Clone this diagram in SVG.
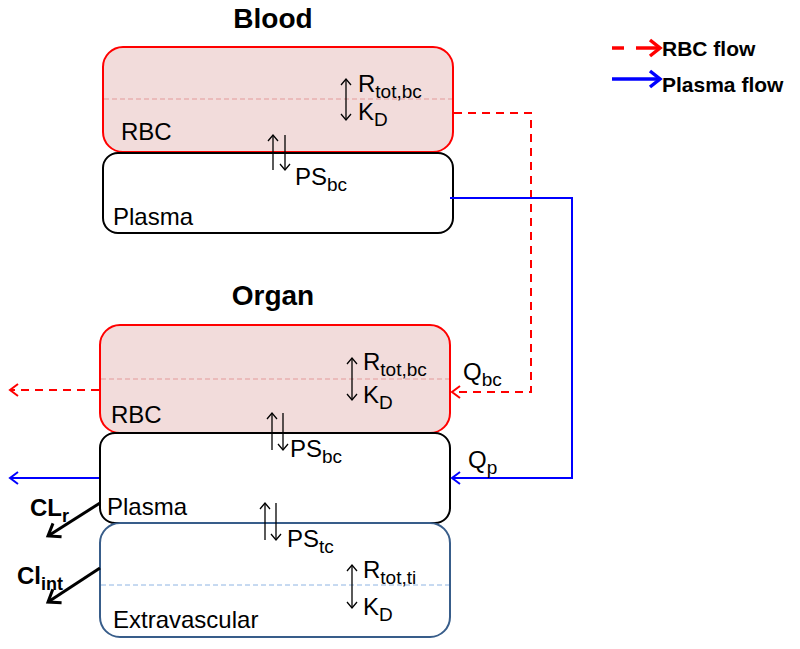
<svg xmlns="http://www.w3.org/2000/svg" width="800" height="649" viewBox="0 0 800 649">
<style>
text{font-family:"Liberation Sans",Arial,sans-serif;fill:#000}
.t{font-size:24px}
.s{font-size:19px}
.h{font-size:28px;font-weight:bold}
.lg{font-size:21px;font-weight:bold}
.rbc{fill:#f2dcdb;stroke:#ff0000;stroke-width:2}
.pl{fill:#fff;stroke:#000;stroke-width:2}
.ev{fill:#fff;stroke:#385d8a;stroke-width:2}
.thin{stroke:#000;stroke-width:1.3;fill:none}
.red{stroke:#ff0000;stroke-width:2;fill:none;stroke-dasharray:8,6}
.blue{stroke:#0000ff;stroke-width:2;fill:none}
</style>
<defs>
<marker id="ah" markerUnits="userSpaceOnUse" markerWidth="12" markerHeight="12" refX="9" refY="6" orient="auto-start-reverse" viewBox="0 0 12 12">
<path d="M3,1 L9,6 L3,11" fill="none" stroke="#000" stroke-width="1.3"/>
</marker>
<marker id="ar" markerUnits="userSpaceOnUse" markerWidth="16" markerHeight="16" refX="13" refY="8" orient="auto" viewBox="0 0 16 16">
<path d="M5,2 L13,8 L5,14" fill="none" stroke="#ff0000" stroke-width="2"/>
</marker>
<marker id="ab" markerUnits="userSpaceOnUse" markerWidth="16" markerHeight="16" refX="13" refY="8" orient="auto" viewBox="0 0 16 16">
<path d="M5,2 L13,8 L5,14" fill="none" stroke="#0000ff" stroke-width="2"/>
</marker>
<marker id="ak" markerUnits="userSpaceOnUse" markerWidth="20" markerHeight="20" refX="16" refY="10" orient="auto" viewBox="0 0 20 20">
<path d="M5,2 L16,10 L5,18" fill="none" stroke="#000" stroke-width="3"/>
</marker>
<marker id="lr" markerUnits="userSpaceOnUse" markerWidth="20" markerHeight="20" refX="16" refY="10" orient="auto" viewBox="0 0 20 20">
<path d="M6,2 L16,10 L6,18" fill="none" stroke="#ff0000" stroke-width="3.5"/>
</marker>
<marker id="lb" markerUnits="userSpaceOnUse" markerWidth="20" markerHeight="20" refX="16" refY="10" orient="auto" viewBox="0 0 20 20">
<path d="M6,2 L16,10 L6,18" fill="none" stroke="#0000ff" stroke-width="3.5"/>
</marker>
</defs>

<g id="titles">
<text class="h" x="273" y="28" text-anchor="middle">Blood</text>
<text class="h" x="273" y="305" text-anchor="middle">Organ</text>
</g>

<g id="legend">
<line x1="612" y1="48" x2="624" y2="48" stroke="#ff0000" stroke-width="3.5"/>
<line x1="636" y1="48" x2="660" y2="48" stroke="#ff0000" stroke-width="3.5" marker-end="url(#lr)"/>
<text class="lg" x="662" y="56">RBC flow</text>
<line x1="612" y1="79" x2="660" y2="79" stroke="#0000ff" stroke-width="3.5" marker-end="url(#lb)"/>
<text class="lg" x="662" y="92">Plasma flow</text>
</g>

<g id="blood-rbc">
<rect class="rbc" x="103" y="47" width="350" height="105" rx="20"/>
<line x1="104" y1="99" x2="452" y2="99" stroke="#e39a9a" stroke-width="1" stroke-dasharray="5,3"/>
<text class="t" x="121" y="140">RBC</text>
<line class="thin" x1="346" y1="79" x2="346" y2="120" marker-start="url(#ah)" marker-end="url(#ah)"/>
<text class="t" x="358" y="92">R<tspan class="s" dy="6">tot,bc</tspan></text>
<text class="t" x="358" y="120">K<tspan class="s" dy="6">D</tspan></text>
</g>

<g id="blood-plasma">
<rect class="pl" x="103" y="153" width="350" height="80" rx="15"/>
<text class="t" x="113" y="225">Plasma</text>
</g>

<g id="blood-ps">
<line class="thin" x1="273" y1="170" x2="273" y2="135" marker-end="url(#ah)"/>
<line class="thin" x1="285" y1="135" x2="285" y2="170" marker-end="url(#ah)"/>
<text class="t" x="295" y="185">PS<tspan class="s" dy="6">bc</tspan></text>
</g>

<g id="organ-rbc">
<rect class="rbc" x="100" y="325" width="350" height="108" rx="20"/>
<line x1="101" y1="379" x2="449" y2="379" stroke="#e39a9a" stroke-width="1" stroke-dasharray="5,3"/>
<text class="t" x="111" y="423">RBC</text>
<line class="thin" x1="352" y1="358" x2="352" y2="400" marker-start="url(#ah)" marker-end="url(#ah)"/>
<text class="t" x="363" y="370">R<tspan class="s" dy="6">tot,bc</tspan></text>
<text class="t" x="363" y="403">K<tspan class="s" dy="6">D</tspan></text>
</g>

<g id="organ-plasma">
<rect class="pl" x="100" y="433" width="350" height="90" rx="15"/>
<text class="t" x="107" y="515">Plasma</text>
</g>

<g id="organ-ev">
<rect class="ev" x="100" y="523" width="350" height="114" rx="20"/>
<line x1="101" y1="585" x2="449" y2="585" stroke="#8eb4e3" stroke-width="1" stroke-dasharray="5,3"/>
<text class="t" x="113" y="628">Extravascular</text>
<line class="thin" x1="352" y1="565" x2="352" y2="608" marker-start="url(#ah)" marker-end="url(#ah)"/>
<text class="t" x="363" y="578">R<tspan class="s" dy="6">tot,ti</tspan></text>
<text class="t" x="363" y="615">K<tspan class="s" dy="6">D</tspan></text>
</g>

<g id="organ-ps">
<line class="thin" x1="272" y1="450" x2="272" y2="413" marker-end="url(#ah)"/>
<line class="thin" x1="283" y1="413" x2="283" y2="450" marker-end="url(#ah)"/>
<text class="t" x="290" y="457">PS<tspan class="s" dy="6">bc</tspan></text>
<line class="thin" x1="265" y1="540" x2="265" y2="503" marker-end="url(#ah)"/>
<line class="thin" x1="276" y1="503" x2="276" y2="540" marker-end="url(#ah)"/>
<text class="t" x="287" y="547">PS<tspan class="s" dy="6">tc</tspan></text>
</g>

<g id="connectors">
<polyline class="red" points="454,113 531,113 531,392 452,392" marker-end="url(#ar)"/>
<polyline class="blue" points="450,198 572,198 572,478 452,478" marker-end="url(#ab)"/>
<line class="red" x1="99" y1="390" x2="10" y2="390" marker-end="url(#ar)"/>
<line class="blue" x1="99" y1="478" x2="10" y2="478" marker-end="url(#ab)"/>
<line x1="100" y1="503" x2="48" y2="536" stroke="#000" stroke-width="3" marker-end="url(#ak)"/>
<line x1="100" y1="568" x2="48" y2="602" stroke="#000" stroke-width="3" marker-end="url(#ak)"/>
</g>

<g id="labels">
<text class="t" x="463" y="380">Q<tspan class="s" dy="6">bc</tspan></text>
<text class="t" x="468" y="468">Q<tspan class="s" dy="6">p</tspan></text>
<text x="30" y="516" style="font-size:24px;font-weight:bold">CL<tspan dy="6" style="font-size:18px">r</tspan></text>
<text x="17" y="584" style="font-size:24px;font-weight:bold">Cl<tspan dy="6" style="font-size:18px">int</tspan></text>
</g>
</svg>
